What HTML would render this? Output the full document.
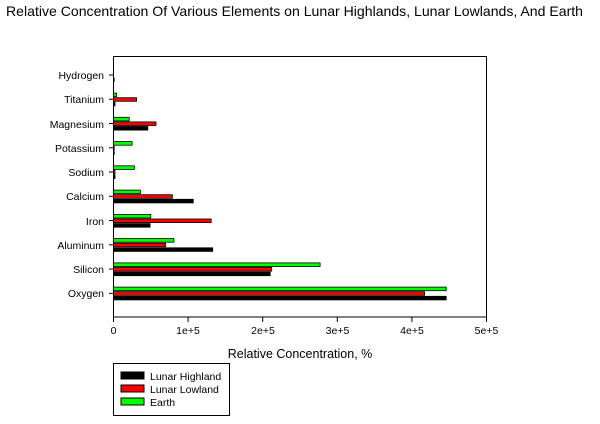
<!DOCTYPE html>
<html><head><meta charset="utf-8"><style>
body{margin:0;background:#fff;}
svg text{font-family:"Liberation Sans",sans-serif;fill:#000;}
</style></head><body>
<svg width="600" height="419" viewBox="0 0 600 419" xmlns="http://www.w3.org/2000/svg">
<text x="6" y="16" font-size="14" textLength="577" lengthAdjust="spacingAndGlyphs">Relative Concentration Of Various Elements on Lunar Highlands, Lunar Lowlands, And Earth</text>
<rect x="113.5" y="56.5" width="373" height="260.5" fill="none" stroke="#000" stroke-width="1"/>
<g id="bars" stroke="#000" stroke-width="0.8"></g>
<g font-size="10.5" text-anchor="end">
<text x="104" y="79">Hydrogen</text>
<text x="104" y="103">Titanium</text>
<text x="104" y="128">Magnesium</text>
<text x="104" y="152">Potassium</text>
<text x="104" y="176">Sodium</text>
<text x="104" y="200">Calcium</text>
<text x="104" y="225">Iron</text>
<text x="104" y="249">Aluminum</text>
<text x="104" y="273">Silicon</text>
<text x="104" y="297">Oxygen</text>
</g>
<g stroke="#000" stroke-width="1" id="ticks"></g>
<g font-size="10.5" text-anchor="middle">
<text x="113.5" y="334">0</text>
<text x="188" y="334">1e+5</text>
<text x="263" y="334">2e+5</text>
<text x="337.5" y="334">3e+5</text>
<text x="412" y="334">4e+5</text>
<text x="486.5" y="334">5e+5</text>
</g>
<text x="300" y="358" font-size="12.5" text-anchor="middle">Relative Concentration, %</text>
<rect x="113.5" y="363.5" width="116" height="52" fill="#fff" stroke="#000"/>
<rect x="121" y="372" width="23" height="7" fill="#000" stroke="#000"/>
<rect x="121" y="385" width="23" height="7" fill="#f00" stroke="#000"/>
<rect x="121" y="398" width="23" height="7" fill="#0f0" stroke="#000"/>
<g font-size="10.5"><text x="150" y="380">Lunar Highland</text><text x="150" y="393">Lunar Lowland</text><text x="150" y="406">Earth</text></g>
</svg>
<script>
var d=[[0.01,0,0],[0.02,0.31,0.04],[0.46,0.57,0.21],[0.01,0.01,0.25],[0.02,0.02,0.28],[1.07,0.79,0.36],[0.49,1.31,0.50],[1.33,0.70,0.81],[2.10,2.12,2.77],[4.46,4.17,4.46]];
var g=document.getElementById('bars'),s='';
var c=['#000','#f00','#0f0'],off=[3.3,-1.3,-5.9];
d.forEach(function(r,i){var cy=75+i*24.26;r.forEach(function(v,j){if(v<=0)return;var w=v*74.6;s+='<rect x="113.5" y="'+(cy+off[j]-0.3).toFixed(1)+'" width="'+w.toFixed(1)+'" height="3.6" fill="'+c[j]+'"/>';});});
g.innerHTML=s;
var t='';for(var k=0;k<=5;k++){var x=113.5+k*74.6;t+='<line x1="'+x+'" y1="317" x2="'+x+'" y2="322"/>';}
for(var i=0;i<10;i++){var y=75+i*24.26;t+='<line x1="109" y1="'+y+'" x2="113.5" y2="'+y+'"/>';}
document.getElementById('ticks').innerHTML=t;
</script>
</body></html>
